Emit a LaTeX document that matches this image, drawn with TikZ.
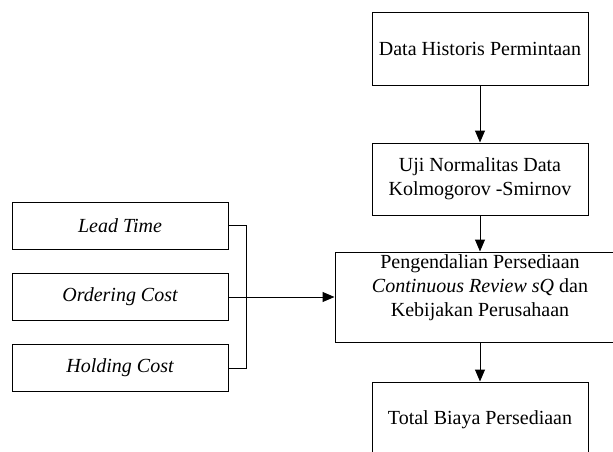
\documentclass[tikz,border=0pt]{standalone}
\usepackage{fontspec}
\setmainfont{Liberation Serif}
\usetikzlibrary{arrows.meta}
\begin{document}
\begin{tikzpicture}[x=1pt,y=-1pt,
  txt/.style={inner sep=0pt, align=center, font=\fontsize{20}{24}\selectfont},
  box/.style={txt, draw, line width=1pt, minimum width=216pt},
  lbox/.style={box, minimum height=47pt, font=\fontsize{20}{24}\selectfont\itshape},
  conn/.style={line width=1pt},
  arr/.style={conn, -{Triangle[length=12pt,width=10pt]}}]
\useasboundingbox (0,0) rectangle (613,452);
\clip (0,0) rectangle (613,452);
\node[box, minimum height=72pt] (hist) at (480,49) {Data Historis Permintaan};
\node[box, minimum height=72pt] (uji) at (480,179) {Uji Normalitas Data\\Kolmogorov -Smirnov};
\node[draw, line width=1pt, minimum width=305pt, minimum height=90pt, inner sep=0pt] (ctrl) at (487.5,297) {};
\node[txt] (ctrltext) at (480,288) {Pengendalian Persediaan\\\textit{Continuous Review sQ} dan\\Kebijakan Perusahaan};
\node[box, minimum height=76pt] (total) at (480,420) {Total Biaya Persediaan};
\node[lbox] (lead) at (120,225.5) {Lead Time};
\node[lbox] (ord) at (120,297) {Ordering Cost};
\node[lbox] (hold) at (120,368) {Holding Cost};
\draw[arr] (hist.south) -- (uji.north);
\draw[arr] (uji.south) -- (uji.south |- ctrl.north);
\draw[arr] (total.north |- ctrl.south) -- (total.north);
\draw[conn] (lead.east) -- ++(18,0) coordinate (j) -- (j |- hold.east) -- (hold.east);
\draw[arr] (ord.east) -- (ctrl.west);
\end{tikzpicture}
\end{document}
